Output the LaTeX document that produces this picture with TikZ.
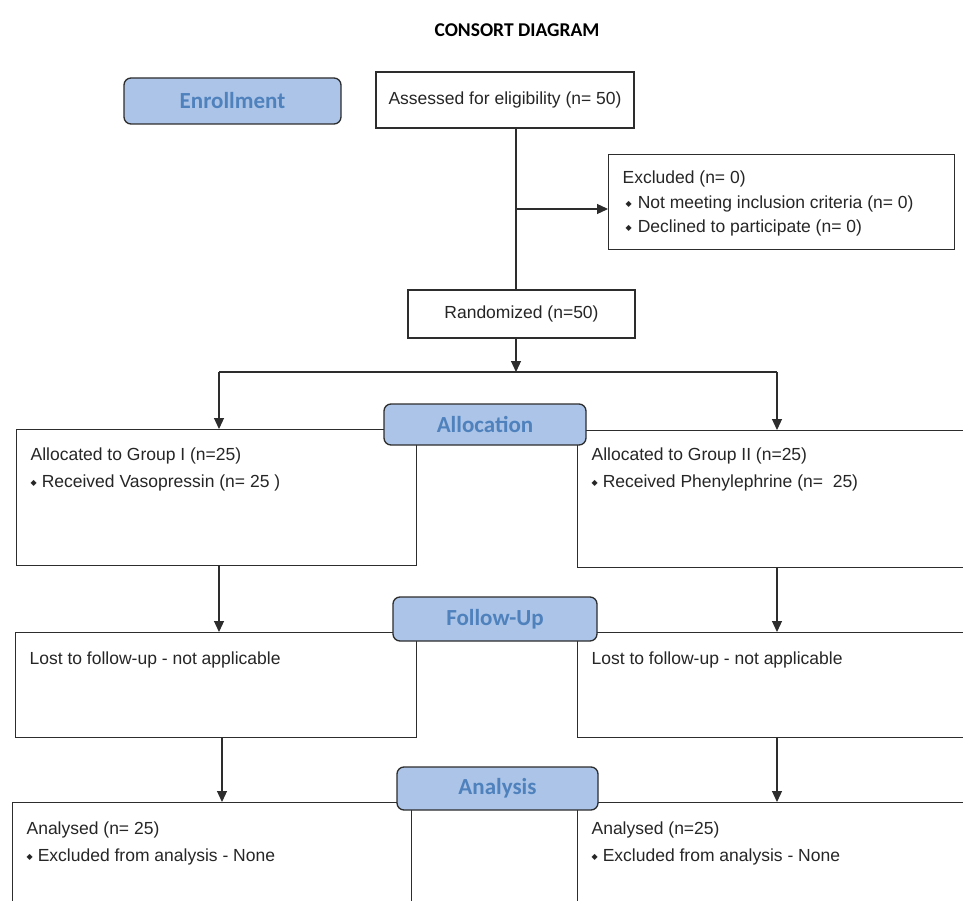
\documentclass[tikz,border=0pt]{standalone}
\usepackage{fontspec}
\setmainfont{Liberation Sans}
\newfontfamily\calfont{Carlito}
\newfontfamily\symfont{DejaVu Sans}
\usetikzlibrary{arrows.meta}

\definecolor{stagefill}{RGB}{171,196,231}
\definecolor{stagetext}{RGB}{79,129,189}
\definecolor{edgegray}{RGB}{45,45,45}

% small diamond bullet
\newcommand{\bul}{{\symfont\fontsize{8}{8}\selectfont\raisebox{0.45ex}{◆}}}
% text box with its lines set from the top
\newcommand{\toptext}[4]{\parbox[t][#2][t]{#1}{\rule{0pt}{#3}#4}}

\tikzset{
  stage/.style={draw=edgegray, line width=1.3pt, rounded corners=7pt, fill=stagefill,
    text=stagetext, inner sep=0pt, font=\calfont\bfseries\fontsize{23}{27}\selectfont},
  flowbox/.style={draw=edgegray, line width=1.2pt, fill=white, inner sep=0pt,
    text=black!85, font=\fontsize{17.5}{27}\selectfont},
  groupbox/.style={flowbox, anchor=north west, inner xsep=14pt},
  link/.style={draw=edgegray, line width=1.2pt},
  flow/.style={link, -{Triangle[length=11pt,width=10pt]}},
}

\begin{document}
\begin{tikzpicture}[x=1pt, y=-1pt]
	\useasboundingbox[fill=white] (0,0) rectangle (963,901);

	\node[font=\calfont\bfseries\fontsize{19.5}{23}\selectfont] (title) at (517,30) {CONSORT DIAGRAM};

	% enrollment
	\node[stage, minimum width=217pt, minimum height=46pt] (enrol) at (232.5,101) {Enrollment};
	\node[flowbox, minimum width=258pt, minimum height=56pt] (assess) at (505,100) {Assessed for eligibility (n= 50)};
	\node[groupbox, font=\fontsize{17.5}{24.5}\selectfont] (excl) at (608,154)
		{\toptext{318pt}{95pt}{29pt}{Excluded (n= 0)\\
		\hspace*{3pt}\bul\hspace{6pt}Not meeting inclusion criteria (n= 0)\\
		\hspace*{3pt}\bul\hspace{6pt}Declined to participate (n= 0)}};
	\node[flowbox, minimum width=227pt, minimum height=48pt] (rand) at (521.5,314) {Randomized (n=50)};

	\coordinate (split) at (516,209);
	\coordinate (fork) at (516,372);
	\coordinate (forkL) at (219,372);
	\coordinate (forkR) at (777,372);

	\draw[link] (assess.south -| split) -- (rand.north -| split);
	\draw[flow] (split) -- (split -| excl.west);
	\draw[flow] (rand.south -| fork) -- (fork);
	\draw[link] (forkL) -- (forkR);

	% allocation
	\node[groupbox] (alloc1) at (16,429)
		{\toptext{372pt}{136pt}{31pt}{Allocated to Group I (n=25)\\
		\bul\hspace{5pt}Received Vasopressin (n= 25 )}};
	\node[groupbox] (alloc2) at (577,430)
		{\toptext{372pt}{137pt}{30pt}{Allocated to Group II (n=25)\\
		\bul\hspace{5pt}Received Phenylephrine (n=\ \ 25)}};
	\draw[flow] (forkL) -- (forkL |- alloc1.north);
	\draw[flow] (forkR) -- (forkR |- alloc2.north);

	% follow-up
	\node[groupbox] (follow1) at (15,632)
		{\toptext{373pt}{105pt}{32pt}{Lost to follow-up - not applicable}};
	\node[groupbox] (follow2) at (577,632)
		{\toptext{372pt}{105pt}{32pt}{Lost to follow-up - not applicable}};
	\draw[flow] (alloc1.south -| forkL) -- (follow1.north -| forkL);
	\draw[flow] (alloc2.south -| forkR) -- (follow2.north -| forkR);

	% analysis
	\node[groupbox] (anal1) at (12,802)
		{\toptext{371pt}{140pt}{32pt}{Analysed (n= 25)\\
		\bul\hspace{5pt}Excluded from analysis - None}};
	\node[groupbox] (anal2) at (577,802)
		{\toptext{372pt}{140pt}{32pt}{Analysed (n=25)\\
		\bul\hspace{5pt}Excluded from analysis - None}};
	\draw[flow] (follow1.south -| 222,0) -- (anal1.north -| 222,0);
	\draw[flow] (follow2.south -| forkR) -- (anal2.north -| forkR);

	% stage labels on top of the boxes
	\node[stage, minimum width=202pt, minimum height=41pt] (alloclbl) at (485,424.5) {Allocation};
	\node[stage, minimum width=204pt, minimum height=44pt] (followlbl) at (495,619) {Follow-Up};
	\node[stage, minimum width=201pt, minimum height=43pt] (anallbl) at (497.5,788.5) {Analysis};
\end{tikzpicture}
\end{document}
